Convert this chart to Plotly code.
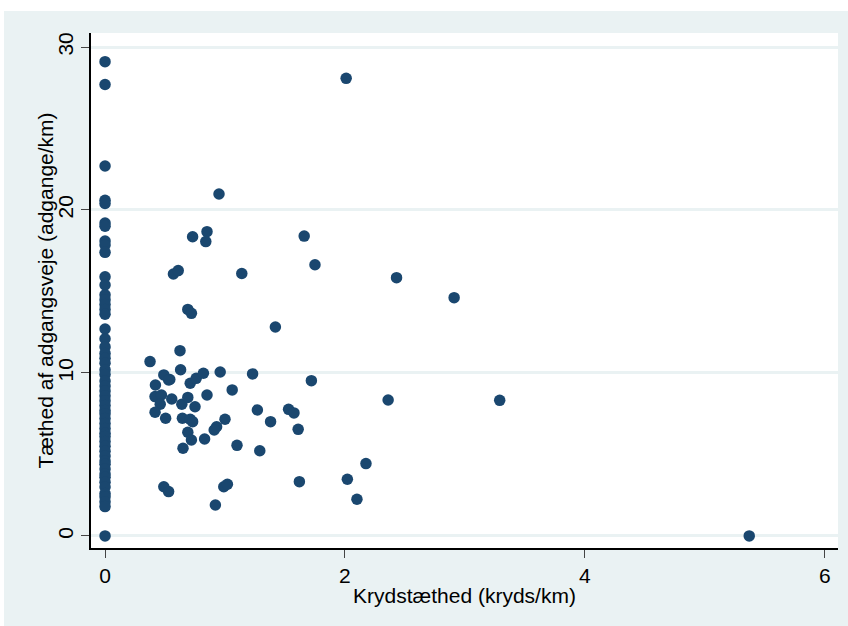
import plotly.graph_objects as go

# Krydstæthed (kryds/km) og tæthed af adgangsveje (adgange/km) pr. vejstrækning
kryds_nul = [0] * 54
adgang_nul = [29.1, 27.7, 22.7, 20.6, 20.4, 19.2, 19.0, 18.1, 17.85, 17.4,
              15.9, 15.4, 14.8, 14.5, 14.2, 13.9, 13.6, 12.7, 12.1, 11.6,
              11.2, 10.9, 10.6, 10.2, 9.9, 9.5, 9.2, 8.9, 8.6, 8.3,
              8.0, 7.7, 7.5, 7.2, 6.9, 6.6, 6.3, 6.1, 5.8, 5.5,
              5.2, 4.9, 4.6, 4.4, 4.1, 3.8, 3.6, 3.3, 3.0, 2.6,
              2.4, 2.1, 1.8, 0.0]

kryds_ovrige = [0.95, 2.01, 0.73, 0.85, 0.84, 1.66, 0.57, 0.61, 1.14, 1.75,
                2.43, 2.91, 0.69, 0.72, 1.42, 0.625, 0.375, 0.63, 0.49, 0.54,
                0.71, 0.76, 0.82, 0.96, 1.23, 1.72, 0.42, 0.53, 1.06, 0.85,
                0.417, 0.47, 0.556, 0.64, 0.69, 0.75, 0.46, 0.417, 0.505, 0.645,
                0.71, 0.73, 1.0, 0.93, 0.91, 0.69, 0.72, 0.83, 0.65, 1.1,
                1.27, 1.53, 1.575, 1.38, 1.61, 2.36, 3.29, 1.29, 2.175, 2.02,
                1.62, 2.1, 0.49, 0.53, 0.99, 1.02, 0.92, 5.37]
adgang_ovrige = [20.98, 28.08, 18.36, 18.67, 18.06, 18.4, 16.07, 16.28, 16.1, 16.64,
                 15.85, 14.62, 13.9, 13.66, 12.82, 11.37, 10.7, 10.2, 9.88, 9.6,
                 9.37, 9.67, 9.98, 10.06, 9.94, 9.53, 9.26, 9.57, 8.96, 8.65,
                 8.55, 8.65, 8.4, 8.08, 8.5, 7.93, 8.08, 7.59, 7.22, 7.22,
                 7.16, 7.01, 7.16, 6.7, 6.5, 6.36, 5.89, 5.95, 5.38, 5.56,
                 7.73, 7.77, 7.55, 7.01, 6.54, 8.34, 8.32, 5.23, 4.44, 3.48,
                 3.33, 2.25, 3.02, 2.72, 3.02, 3.17, 1.9, 0.0]

x_ticks = [0, 2, 4, 6]
y_ticks = [0, 10, 20, 30]

kryds = kryds_nul + kryds_ovrige
adgang = adgang_nul + adgang_ovrige

BG = "#EAF2F3"
MARK = "#1A476F"
FONT = "Liberation Sans, Arial, Helvetica, sans-serif"

PLOT_W, PLOT_H = 747, 515

fig = go.Figure(
    go.Scatter(
        x=kryds, y=adgang, mode="markers",
        marker=dict(color=MARK, size=11.5, line=dict(width=0)),
        showlegend=False, hoverinfo="x+y",
    )
)

fig.update_layout(
    width=848, height=626,
    margin=dict(l=91, r=10, t=33, b=78),
    paper_bgcolor=BG, plot_bgcolor="white",
    font=dict(family=FONT, size=21, color="black"),
    shapes=[
        # white strips at the top and left edge of the canvas
        dict(type="rect", xref="paper", yref="paper", layer="below",
             x0=-91 / PLOT_W, x1=757 / PLOT_W, y0=1 + 22 / PLOT_H, y1=1 + 40 / PLOT_H,
             fillcolor="white", line=dict(width=0)),
        dict(type="rect", xref="paper", yref="paper", layer="below",
             x0=-100 / PLOT_W, x1=-87 / PLOT_W, y0=-0.3, y1=1.2,
             fillcolor="white", line=dict(width=0)),
    ],
    annotations=[
        dict(text="Tæthed af adgangsveje (adgange/km)", textangle=-90,
             xref="paper", yref="paper", x=-46 / PLOT_W, y=0.5,
             xanchor="center", yanchor="middle", showarrow=False,
             font=dict(size=21, color="black")),
    ],
)

fig.update_xaxes(
    range=[-0.117, 6.11], tickvals=x_ticks, ticktext=[str(v) for v in x_ticks],
    showgrid=False, zeroline=False,
    showline=True, linecolor="black", linewidth=1.5,
    ticks="outside", ticklen=8, tickwidth=1.2, tickcolor="#444",
    tickfont=dict(size=21),
    title=dict(text="Krydstæthed (kryds/km)", font=dict(size=21), standoff=2),
)
fig.update_yaxes(
    range=[-0.74, 30.86], tickvals=y_ticks, ticktext=[str(v) for v in y_ticks],
    tickangle=-90,
    showgrid=True, gridcolor=BG, gridwidth=2.5, zeroline=False,
    showline=True, linecolor="black", linewidth=1.5,
    ticks="outside", ticklen=8, tickwidth=1.2, tickcolor="#444",
    tickfont=dict(size=21),
)

fig.write_html("out.html")
